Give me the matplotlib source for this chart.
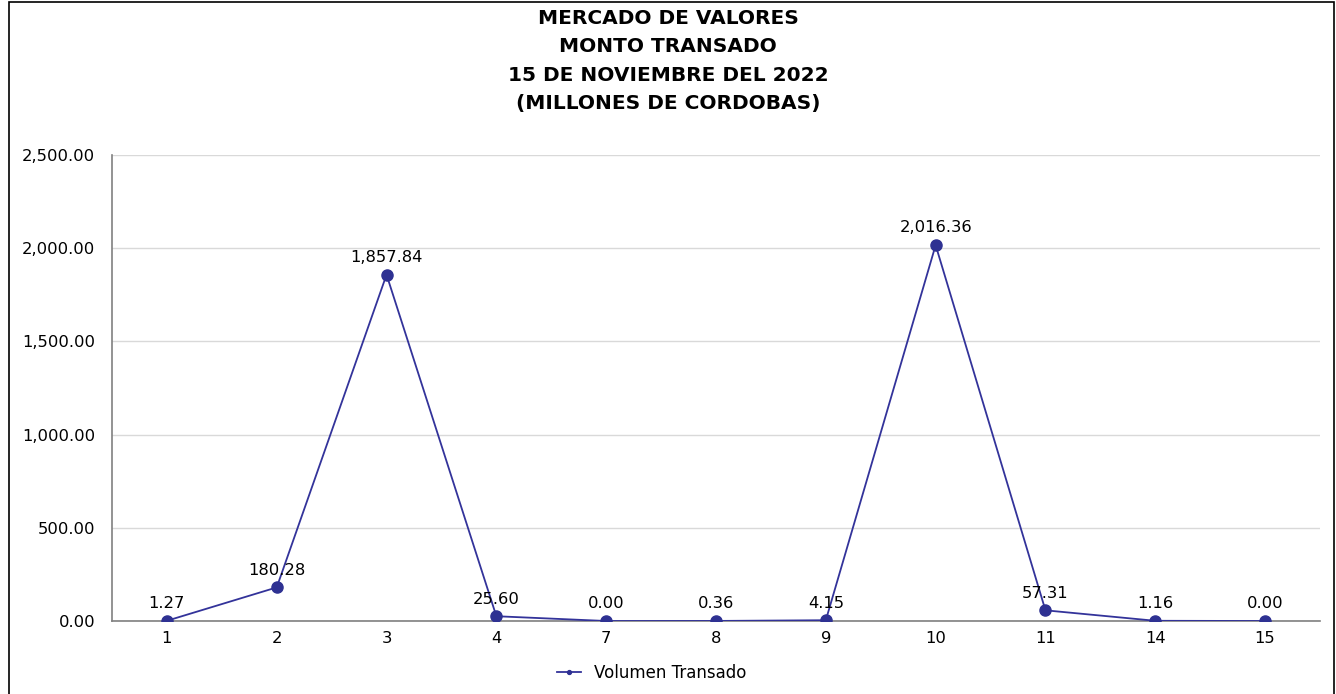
import matplotlib
matplotlib.use("Agg")
import matplotlib.pyplot as plt
from matplotlib.patches import Rectangle

# data
dias = ['1', '2', '3', '4', '7', '8', '9', '10', '11', '14', '15']
volumen = [1.27, 180.28, 1857.84, 25.60, 0.00, 0.36, 4.15, 2016.36, 57.31, 1.16, 0.00]
etiquetas = ['1.27', '180.28', '1,857.84', '25.60', '0.00', '0.36', '4.15',
             '2,016.36', '57.31', '1.16', '0.00']
y_ticks = [0, 500, 1000, 1500, 2000, 2500]

plt.rcParams['font.family'] = ['DejaVu Sans']

fig = plt.figure(figsize=(13.36, 6.94), dpi=100)
ax = fig.add_axes([112 / 1336, 1 - 621 / 694, (1320 - 112) / 1336, (621 - 155) / 694])

x = list(range(len(dias)))
ax.plot(x, volumen, color='#33339a', lw=1.3, marker='o', ms=8,
        mfc='#2e3192', mec='#2e3192', label='Volumen Transado', zorder=3)

for xi, v, t in zip(x, volumen, etiquetas):
    ax.annotate(t, (xi, v), xytext=(0, 7), textcoords='offset points',
                ha='center', va='bottom', fontsize=11.8, color='black')

ax.set_xlim(-0.5, len(dias) - 0.5)
ax.set_ylim(0, 2500)
ax.set_xticks(x)
ax.set_xticklabels(dias)
ax.set_yticks(y_ticks)
ax.set_yticklabels(['{:,.2f}'.format(v) for v in y_ticks])
ax.tick_params(length=0, labelsize=11.8, pad=7)
ax.tick_params(axis='y', pad=12)

ax.grid(axis='y', color='#d9d9d9', lw=1)
ax.set_axisbelow(True)
for s in ['top', 'right']:
    ax.spines[s].set_visible(False)
for s in ['left', 'bottom']:
    ax.spines[s].set_color('#808080')
    ax.spines[s].set_linewidth(1.2)

fig.text(0.5, 1 - 61 / 694,
         'MERCADO DE VALORES\nMONTO TRANSADO\n15 DE NOVIEMBRE DEL 2022\n(MILLONES DE CORDOBAS)',
         ha='center', va='center', fontsize=14.5, fontweight='bold', linespacing=1.62)

leg = fig.legend(loc='center', bbox_to_anchor=(652 / 1336, 1 - 673 / 694), frameon=False,
                 fontsize=12, markerscale=0.35, handlelength=1.4)

fig.patches.append(Rectangle((9 / 1336, -0.01), 1325 / 1336, 1 - 2 / 694 + 0.01,
                             transform=fig.transFigure, fill=False, ec='black', lw=1.2))

fig.savefig('out.png', dpi=100)
